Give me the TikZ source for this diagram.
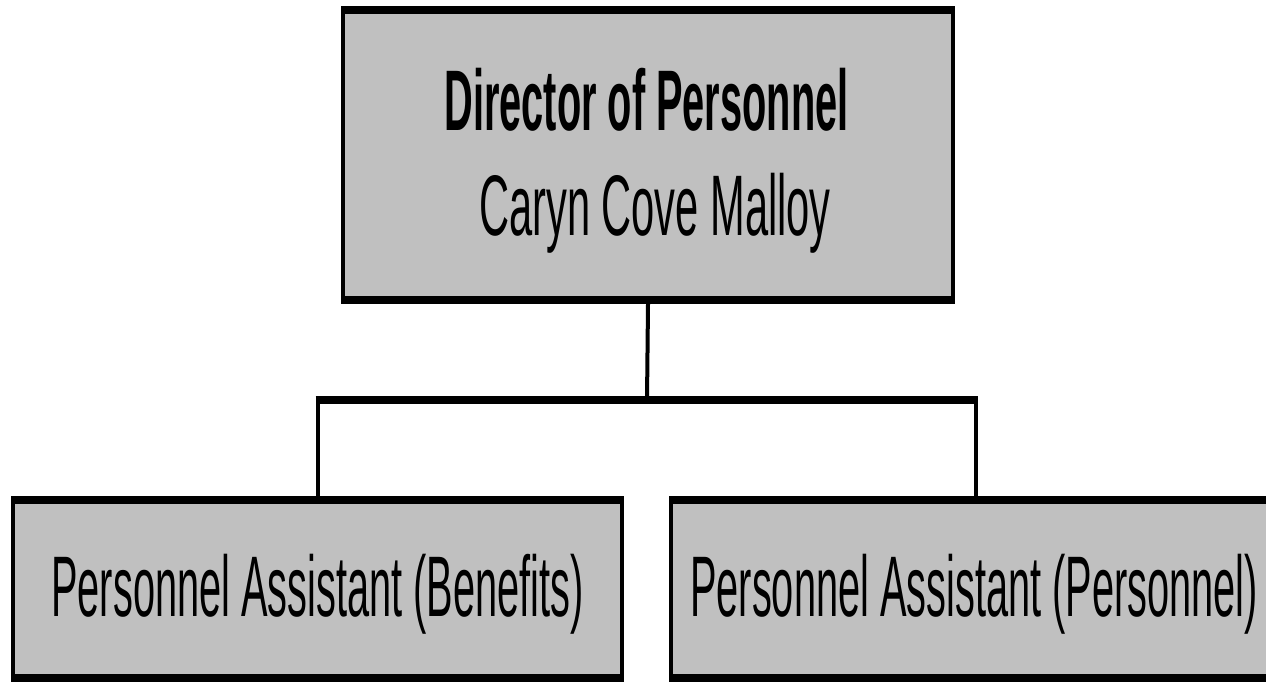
\documentclass[tikz,border=0pt]{standalone}
\usepackage{fontspec}
\setmainfont{Liberation Sans}
\definecolor{boxgray}{HTML}{C0C0C0}
\tikzset{
  orgbox/.style={rectangle, inner sep=0pt, outer sep=0pt, fill=black,
    path picture={\fill[boxgray] ([shift={(4pt,-8pt)}]path picture bounding box.north west)
      rectangle ([shift={(-4pt,8pt)}]path picture bounding box.south east);}},
  lbl/.style={anchor=base, inner sep=0pt, font=\fontsize{86}{100}\selectfont},
  vline/.style={line width=4pt},
  hline/.style={line width=8pt}
}
\newcommand{\nar}[2][0.462]{\scalebox{#1}[1]{#2}}
\begin{document}
\begin{tikzpicture}[x=1pt,y=-1pt]
\useasboundingbox (0,0) rectangle (1266,682);
\fill[white] (0,0) rectangle (1266,682);
\node[orgbox, minimum width=614pt, minimum height=298pt] (top) at (648,155) {};
\node[orgbox, minimum width=613pt, minimum height=186pt] (left) at (317.5,589) {};
\node[orgbox, minimum width=613pt, minimum height=186pt] (right) at (975.5,589) {};
\node[lbl] (t1) at (646.5,131) {\nar{\bfseries Director of Personnel}};
\node[lbl] (t2) at (655,235) {\nar[0.484]{Caryn Cove Malloy}};
\node[lbl] (l1) at (317.5,616) {\nar{Personnel Assistant (Benefits)}};
\node[lbl] (r1) at (974,616) {\nar{Personnel Assistant (Personnel)}};
\coordinate (bar) at (647,400);
\draw[vline] (top.south) -- (bar);
\draw[hline, shorten <=-2pt, shorten >=-2pt] (left.north |- bar) -- (right.north |- bar);
\draw[vline] (left.north |- bar) -- (left.north);
\draw[vline] (right.north |- bar) -- (right.north);
\end{tikzpicture}
\end{document}
